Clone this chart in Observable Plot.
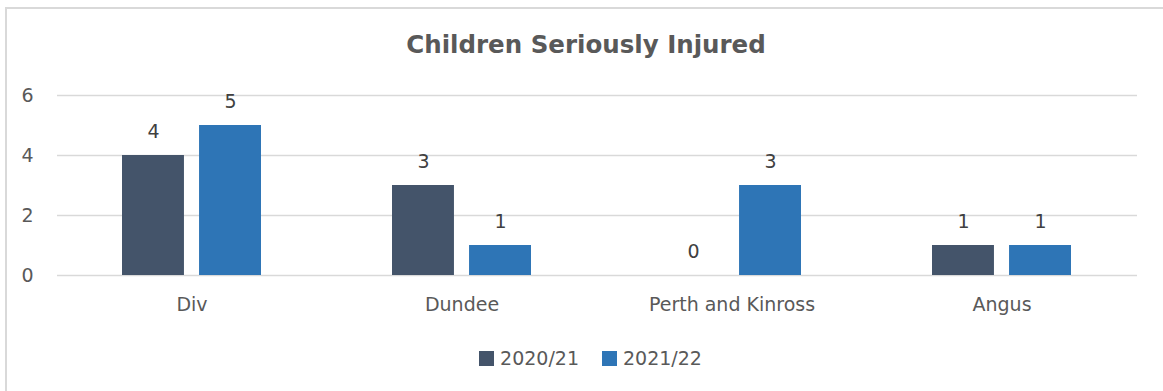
<!DOCTYPE html>
<html>
<head>
<meta charset="utf-8">
<script src="https://cdn.jsdelivr.net/npm/d3@7"></script>
<script src="https://cdn.jsdelivr.net/npm/@observablehq/plot@0.6"></script>
<style>
  html, body { margin: 0; padding: 0; background: #fff; }
  #wrap { position: relative; width: 1163px; height: 391px; overflow: hidden; background: #fff; }
  #frame { position: absolute; left: 5px; top: 7px; width: 1200px; height: 500px; border: 2px solid #d9d9d9; box-sizing: border-box; }
  #title { position: absolute; left: 0; width: 1172px; top: 30px; text-align: center; font-family: "DejaVu Sans", sans-serif; font-weight: bold; font-size: 24.5px; color: #595959; line-height: 30px; }
  #chart { position: absolute; left: 0; top: 0; }
  #legend { position: absolute; left: 9px; width: 1163px; top: 346px; display: flex; justify-content: center; font-family: "DejaVu Sans", sans-serif; font-size: 19px; color: #595959; line-height: 24px; }
  .item { display: flex; align-items: center; margin: 0 11.5px; }
  .sw { width: 15px; height: 15px; margin-right: 6px; }
</style>
</head>
<body>
<div id="wrap">
  <div id="frame"></div>
  <div id="chart"></div>
  <div id="title">Children Seriously Injured</div>
  <div id="legend"></div>
</div>
<script>
const categories = ["Div", "Dundee", "Perth and Kinross", "Angus"];
const series = ["2020/21", "2021/22"];
const values2020 = [4, 3, 0, 1];
const values2021 = [5, 1, 3, 1];
const yTicks = [0, 2, 4, 6];
const colors = ["#44546a", "#2e75b6"];

const rowsA = categories.map((c, i) => ({category: c, value: values2020[i]}));
const rowsB = categories.map((c, i) => ({category: c, value: values2021[i]}));

const font = "'DejaVu Sans', sans-serif";
const plot = Plot.plot({
  width: 1163,
  height: 330,
  marginTop: 95,
  marginBottom: 55,
  marginLeft: 57,
  marginRight: 26,
  style: {fontFamily: font, fontSize: "19px", color: "#595959", background: "transparent"},
  x: {domain: categories, paddingInner: 0.485, paddingOuter: 0.2425, label: null},
  y: {domain: [0, 6], label: null},
  marks: [
    Plot.ruleY(yTicks, {stroke: "#d9d9d9", strokeWidth: 1.5}),
    Plot.barY(rowsA, {x: "category", y: "value", fill: colors[0], insetRight: 77.05}),
    Plot.barY(rowsB, {x: "category", y: "value", fill: colors[1], insetLeft: 77.05}),
    Plot.text(rowsA, {x: "category", y: "value", text: d => String(d.value), dx: -38.5, dy: -24, fill: "#404040", fontSize: 19}),
    Plot.text(rowsB, {x: "category", y: "value", text: d => String(d.value), dx: 38.5, dy: -24, fill: "#404040", fontSize: 19}),
    Plot.axisY({ticks: yTicks, tickSize: 0, tickPadding: 24, fontSize: 19, label: null, tickFormat: d => String(d)}),
    Plot.axisX({tickSize: 0, tickPadding: 22, fontSize: 19, label: null})
  ]
});
document.getElementById("chart").appendChild(plot);

const legend = document.getElementById("legend");
series.forEach((s, i) => {
  const item = document.createElement("div");
  item.className = "item";
  const sw = document.createElement("div");
  sw.className = "sw";
  sw.style.background = colors[i];
  const t = document.createElement("span");
  t.textContent = s;
  item.appendChild(sw);
  item.appendChild(t);
  legend.appendChild(item);
});
</script>
</body>
</html>
